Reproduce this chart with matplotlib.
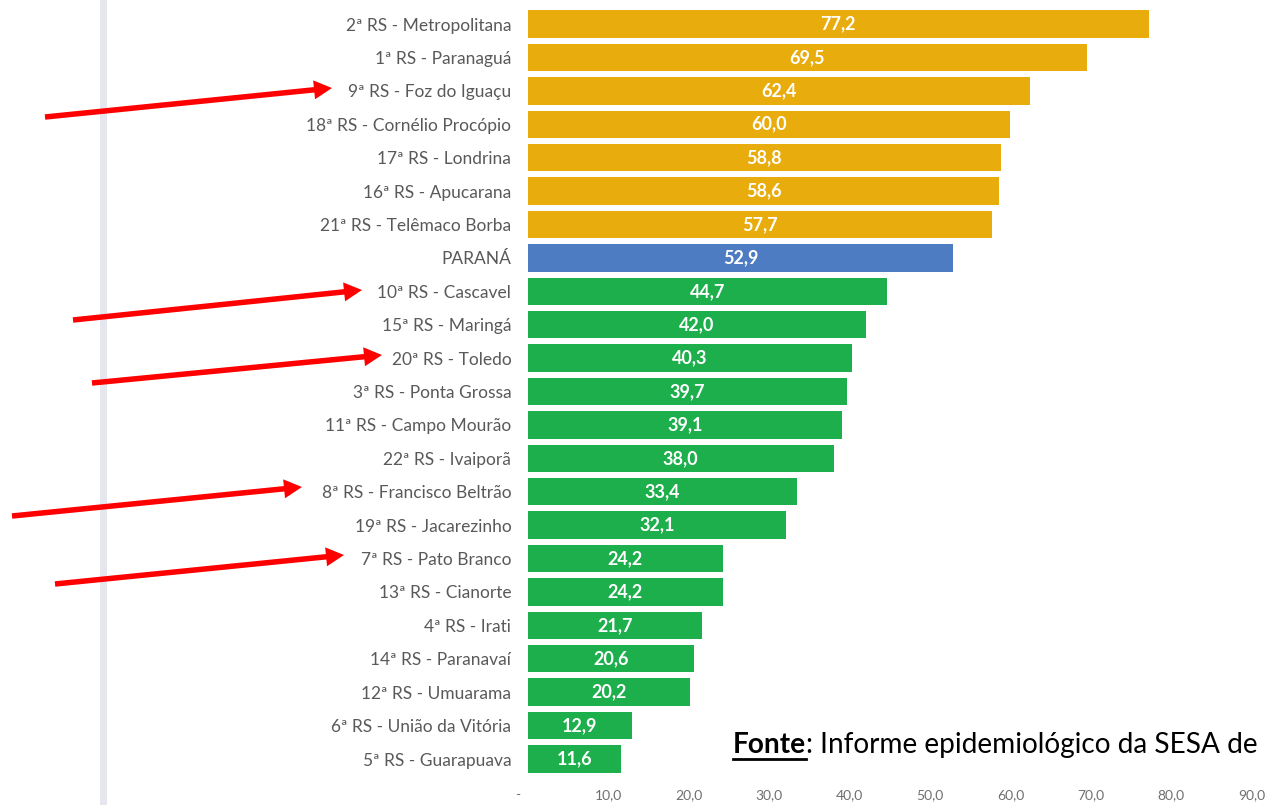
import numpy as np
import matplotlib
matplotlib.use("Agg")
import matplotlib.pyplot as plt
from matplotlib.patches import FancyArrow
from matplotlib.transforms import ScaledTranslation

plt.rcParams['font.family'] = ['Lato', 'DejaVu Sans']

regions = ["2ª RS - Metropolitana", "1ª RS - Paranaguá", "9ª RS - Foz do Iguaçu",
           "18ª RS - Cornélio Procópio", "17ª RS - Londrina", "16ª RS - Apucarana",
           "21ª RS - Telêmaco Borba", "PARANÁ", "10ª RS - Cascavel", "15ª RS - Maringá",
           "20ª RS - Toledo", "3ª RS - Ponta Grossa", "11ª RS - Campo Mourão",
           "22ª RS - Ivaiporã", "8ª RS - Francisco Beltrão", "19ª RS - Jacarezinho",
           "7ª RS - Pato Branco", "13ª RS - Cianorte", "4ª RS - Irati",
           "14ª RS - Paranavaí", "12ª RS - Umuarama", "6ª RS - União da Vitória",
           "5ª RS - Guarapuava"]
values = [77.2, 69.5, 62.4, 60.0, 58.8, 58.6, 57.7, 52.9, 44.7, 42.0, 40.3, 39.7,
          39.1, 38.0, 33.4, 32.1, 24.2, 24.2, 21.7, 20.6, 20.2, 12.9, 11.6]
groups = ["high"] * 7 + ["state"] + ["low"] * 15
xticks = [0, 10, 20, 30, 40, 50, 60, 70, 80, 90]
xticklabels = ["-", "10,0", "20,0", "30,0", "40,0", "50,0", "60,0", "70,0", "80,0", "90,0"]

colors = {"high": "#E8AC0C", "state": "#4D7CC2", "low": "#1DAF4C"}

W, H = 1270, 805
fig = plt.figure(figsize=(W / 100, H / 100), dpi=100)
fig.patch.set_facecolor("white")

# axes spans from x=528px (value 0) to right edge, top of image to y=782px
x0 = 528
y_bot = 782
px_per_unit = 8.04
xmax = (W - x0) / px_per_unit
ax = fig.add_axes([x0 / W, 1 - y_bot / H, 1 - x0 / W, y_bot / H])

y = np.arange(len(regions))
spacing = (759 - 24) / 22
ax.barh(y, values, height=0.82, color=[colors[g] for g in groups])
ax.set_xlim(0, xmax)
ax.set_ylim(22 + (y_bot - 759) / spacing, -24 / spacing)

for yi, v in zip(y, values):
    ax.text(v / 2, yi, f"{v:.1f}".replace(".", ","), ha="center", va="center",
            color="white", fontsize=13, fontweight="bold")

ax.set_yticks(y)
ax.set_yticklabels(regions, fontsize=12.5, color="#595959")
ax.tick_params(axis="y", length=0, pad=12)

tick_pad = 5
tick_color = "#6F6F6F"
ax.set_xticks(xticks)
# the "-" for zero sits a bit left of the axis origin, like Excel's accounting format
ax.set_xticklabels([""] + xticklabels[1:], fontsize=10, color=tick_color)
ax.tick_params(axis="x", length=0, pad=tick_pad)
off = ScaledTranslation(0, -tick_pad / 72, fig.dpi_scale_trans)
ax.text(xticks[0] - 1.3, 0, xticklabels[0], transform=ax.get_xaxis_transform() + off,
        ha="center", va="top", fontsize=10, color=tick_color)
for s in ax.spines.values():
    s.set_visible(False)

# light vertical border on the left
fig.add_artist(plt.Line2D([103 / W, 103 / W], [0, 1], color="#E6E6EE", lw=5,
                          transform=fig.transFigure, zorder=1))

# red arrows (pixel coordinates: tail -> tip)
arrows = [(45, 117, 332, 88), (73, 320, 362, 290), (92, 383, 382, 355),
          (12, 516, 302, 487), (55, 584, 344, 555)]
for tx, ty, hx, hy in arrows:
    fig.add_artist(FancyArrow(tx, H - ty, hx - tx, ty - hy, width=5.5,
                              head_width=19, head_length=18,
                              length_includes_head=True, color="#FF0000",
                              transform=None, lw=0, zorder=5))

# source note
fig.canvas.draw()
r = fig.canvas.get_renderer()
t1 = fig.text(733 / W, 1 - 745 / H, "Fonte", fontsize=20.2, fontweight="bold",
              va="center", ha="left", color="black")
bb = t1.get_window_extent(r)
fig.add_artist(plt.Line2D([bb.x0 / W, bb.x1 / W], [(bb.y0 - 1) / H, (bb.y0 - 1) / H],
                          color="black", lw=2, transform=fig.transFigure))
fig.text(bb.x1 / W, 1 - 745 / H, ": Informe epidemiológico da SESA de",
         fontsize=20.2, va="center", ha="left", color="black")

fig.savefig("out.png", dpi=100)
